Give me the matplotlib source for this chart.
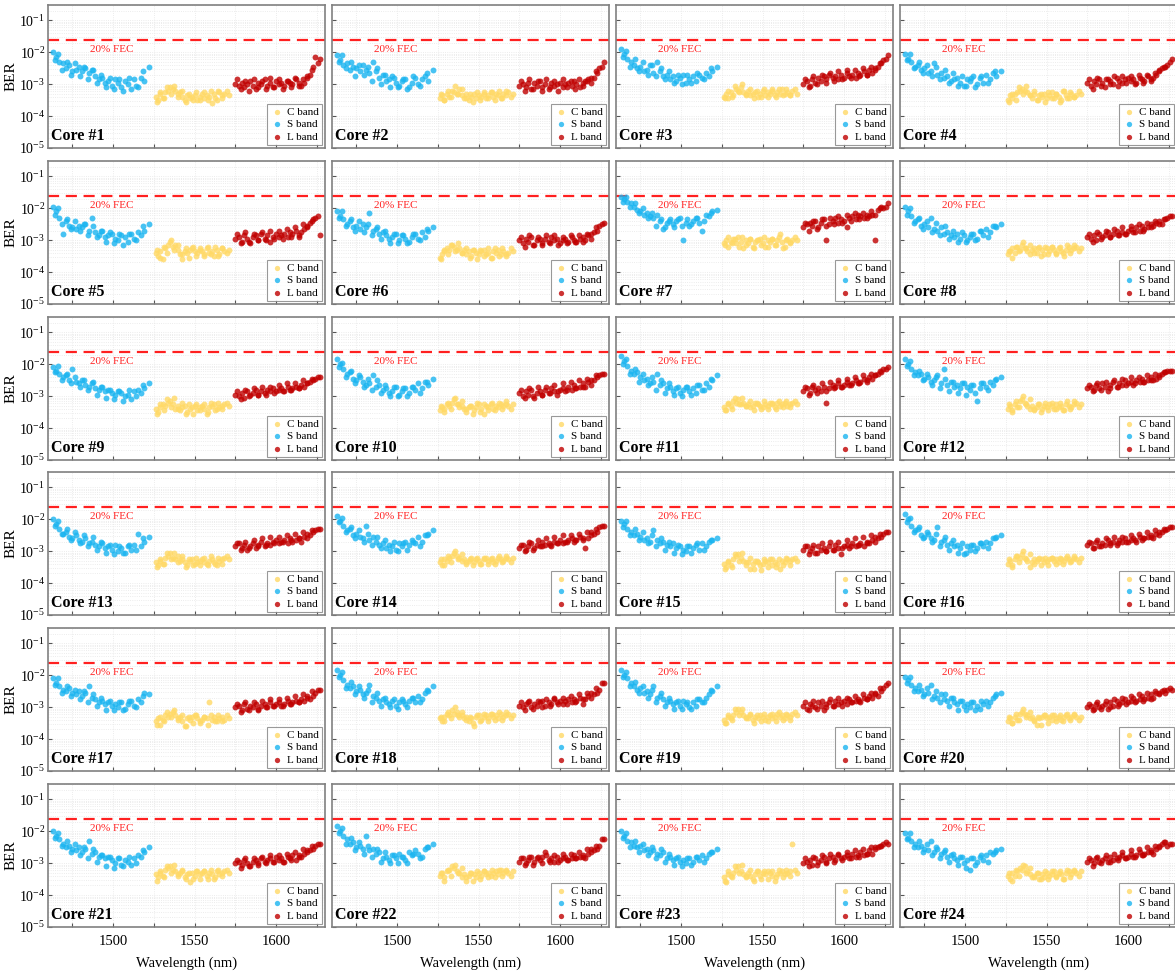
import matplotlib
matplotlib.use("Agg")
import matplotlib.pyplot as plt
import numpy as np
from matplotlib.ticker import LogLocator, NullFormatter, FixedLocator

plt.rcParams['font.family'] = ['Liberation Serif', 'DejaVu Serif']
plt.rcParams['mathtext.fontset'] = 'stix'

# wavelength grids (nm): two interleaved sweeps per band
s_wl = [1463, 1465, 1467, 1469, 1471, 1473, 1475, 1477, 1479, 1481, 1483, 1485, 1487, 1489, 1491,
        1493, 1495, 1497, 1499, 1501, 1503, 1505, 1507, 1509, 1511, 1513, 1515, 1517, 1519, 1522]
c_wl = [1526, 1527.5, 1529, 1530.5, 1532, 1533.5, 1535, 1536.5, 1538, 1539.5, 1541, 1542.5, 1544, 1545.5, 1547,
        1548.5, 1550, 1551.5, 1553, 1554.5, 1556, 1557.5, 1559, 1560.5, 1562, 1563.5, 1565, 1566.5, 1568, 1571]
l_wl = [1575, 1577, 1579, 1580.5, 1582, 1584, 1586, 1587.5, 1589, 1591, 1593, 1594.5, 1596, 1598, 1600,
        1601.5, 1603, 1605, 1607, 1608.5, 1610, 1612, 1614, 1615.5, 1617, 1619, 1621, 1622.5, 1624, 1627]
s_wl2 = [1464, 1466, 1468.5, 1471.5, 1474, 1476.5, 1479.5, 1482, 1484.5, 1487.5,
         1490, 1492.5, 1495.5, 1498, 1500.5, 1503.5, 1506, 1509.5, 1514, 1518]
c_wl2 = [1526.8, 1528.5, 1531, 1533, 1535.5, 1537.5, 1540, 1542, 1544.5, 1546.5,
         1549, 1551, 1553.5, 1555.5, 1558, 1560, 1562.5, 1564.5, 1567, 1570]
l_wl2 = [1576, 1578.5, 1581, 1583.5, 1586.5, 1589, 1591.5, 1594, 1596.5, 1599,
         1601.5, 1604, 1606.5, 1609, 1611.5, 1614, 1616.5, 1619, 1622, 1625.5]

s_log_ber = [
    [-2.00,-2.15,-2.30,-2.35,-2.50,-2.40,-2.60,-2.55,-2.45,-2.60,-2.50,-2.65,-2.55,-2.75,-2.85,-2.80,-2.95,-2.90,-3.05,-2.85,-2.95,-3.10,-2.90,-3.00,-3.15,-2.85,-3.10,-2.80,-2.90,-2.45],
    [-2.10,-2.25,-2.40,-2.35,-2.55,-2.45,-2.50,-2.60,-2.40,-2.55,-2.65,-2.30,-2.60,-2.80,-2.70,-2.90,-2.85,-2.75,-2.95,-3.05,-2.90,-2.85,-3.10,-2.95,-2.80,-3.00,-2.85,-2.75,-2.90,-2.55],
    [-1.90,-2.05,-2.20,-2.30,-2.40,-2.50,-2.45,-2.60,-2.55,-2.40,-2.65,-2.30,-2.60,-2.75,-2.70,-2.85,-2.75,-2.90,-2.80,-2.70,-2.95,-2.85,-2.75,-2.90,-2.70,-2.80,-2.65,-2.75,-2.60,-2.45],
    [-2.05,-2.20,-2.30,-2.45,-2.40,-2.55,-2.50,-2.65,-2.60,-2.35,-2.70,-2.65,-2.80,-2.75,-2.90,-2.85,-2.80,-2.95,-3.05,-2.85,-2.90,-2.75,-3.00,-2.80,-2.95,-2.70,-2.85,-2.65,-2.75,-2.60],
    [-1.95,-2.10,-2.30,-2.80,-2.40,-2.55,-2.60,-2.65,-2.55,-2.60,-2.50,-2.70,-2.30,-2.75,-2.85,-2.70,-2.90,-2.85,-2.80,-2.95,-3.00,-2.85,-2.90,-3.05,-2.80,-2.95,-2.75,-2.85,-2.70,-2.50],
    [-2.10,-2.25,-2.35,-2.50,-2.40,-2.60,-2.55,-2.65,-2.50,-2.60,-2.15,-2.70,-2.65,-2.80,-2.75,-2.85,-2.95,-2.90,-2.80,-3.00,-2.85,-2.95,-3.05,-2.90,-2.80,-2.95,-2.75,-2.90,-2.70,-2.60],
    [-1.65,-1.70,-1.80,-1.85,-1.95,-2.05,-2.10,-2.20,-2.15,-2.25,-2.30,-2.20,-2.40,-2.65,-2.45,-2.35,-2.50,-2.40,-2.30,-3.00,-2.45,-2.55,-2.40,-2.30,-2.45,-2.70,-2.20,-2.25,-2.10,-2.05],
    [-1.95,-2.10,-2.25,-2.40,-2.35,-2.55,-2.50,-2.60,-2.30,-2.65,-2.70,-2.60,-2.80,-2.75,-2.85,-2.90,-2.80,-2.95,-2.85,-3.00,-2.90,-2.80,-2.95,-2.70,-2.85,-2.65,-2.75,-2.55,-2.60,-2.50],
    [-2.10,-2.20,-2.30,-2.40,-2.35,-2.50,-2.15,-2.55,-2.60,-2.50,-2.65,-2.70,-2.60,-2.75,-2.80,-2.70,-2.85,-2.80,-2.90,-2.95,-2.85,-2.90,-3.00,-2.95,-3.10,-2.85,-2.80,-2.90,-2.75,-2.60],
    [-1.85,-2.00,-2.15,-2.30,-2.25,-2.45,-2.50,-2.40,-2.55,-2.65,-2.60,-2.35,-2.70,-2.65,-2.80,-2.75,-2.90,-2.85,-2.70,-2.95,-2.85,-2.75,-2.90,-2.70,-2.80,-2.60,-2.75,-2.55,-2.65,-2.45],
    [-1.75,-1.90,-2.05,-2.20,-2.30,-2.25,-2.40,-2.50,-2.45,-2.60,-2.55,-2.30,-2.65,-2.60,-2.75,-2.70,-2.85,-2.75,-2.90,-2.80,-2.70,-2.85,-2.75,-2.90,-2.65,-2.80,-2.60,-2.70,-2.50,-2.35],
    [-1.85,-2.00,-2.15,-2.25,-2.35,-2.30,-2.45,-2.40,-2.55,-2.50,-2.35,-2.60,-2.15,-2.65,-2.55,-2.70,-2.65,-2.75,-2.60,-2.70,-2.80,-2.65,-3.15,-2.75,-2.60,-2.70,-2.55,-2.65,-2.45,-2.40],
    [-2.00,-2.15,-2.30,-2.45,-2.40,-2.55,-2.60,-2.50,-2.65,-2.70,-2.60,-2.75,-2.70,-2.80,-2.85,-2.75,-2.90,-2.85,-2.95,-2.80,-3.00,-2.90,-3.05,-2.85,-2.95,-2.80,-2.45,-2.85,-2.70,-2.55],
    [-1.90,-2.05,-2.20,-2.35,-2.30,-2.50,-2.45,-2.55,-2.60,-2.20,-2.65,-2.55,-2.70,-2.80,-2.75,-2.90,-2.80,-2.85,-2.95,-2.75,-2.85,-2.70,-2.80,-2.65,-2.75,-2.55,-2.70,-2.50,-2.45,-2.35],
    [-2.05,-2.15,-2.30,-2.40,-2.50,-2.45,-2.55,-2.65,-2.60,-2.70,-2.35,-2.65,-2.75,-2.70,-2.80,-2.85,-2.75,-2.90,-2.85,-2.95,-3.00,-2.85,-2.90,-2.80,-2.95,-2.75,-2.85,-2.70,-2.65,-2.60],
    [-1.85,-2.00,-2.20,-2.35,-2.30,-2.50,-2.55,-2.45,-2.60,-2.65,-2.25,-2.70,-2.65,-2.80,-2.75,-2.85,-2.80,-2.90,-3.10,-2.85,-2.95,-2.80,-2.90,-2.75,-2.85,-2.70,-2.75,-2.60,-2.55,-2.50],
    [-2.10,-2.25,-2.35,-2.45,-2.50,-2.40,-2.55,-2.60,-2.50,-2.65,-2.55,-2.35,-2.70,-2.75,-2.85,-2.80,-2.90,-2.85,-2.95,-2.90,-3.00,-2.85,-3.05,-2.90,-2.80,-2.95,-2.75,-2.85,-2.55,-2.60],
    [-1.85,-2.00,-2.15,-2.30,-2.40,-2.35,-2.50,-2.45,-2.60,-2.55,-2.30,-2.65,-2.70,-2.80,-2.75,-2.85,-2.90,-2.80,-2.95,-2.85,-2.75,-2.90,-2.80,-2.70,-2.85,-2.65,-2.75,-2.55,-2.50,-2.35],
    [-1.85,-2.00,-2.10,-2.25,-2.35,-2.45,-2.40,-2.55,-2.50,-2.60,-2.35,-2.70,-2.65,-2.75,-2.85,-2.80,-2.90,-2.85,-2.95,-2.80,-2.90,-3.00,-2.85,-2.95,-2.75,-2.85,-2.70,-2.60,-2.50,-2.35],
    [-2.05,-2.15,-2.30,-2.40,-2.50,-2.45,-2.60,-2.55,-2.30,-2.65,-2.70,-2.60,-2.75,-2.80,-2.70,-2.85,-2.90,-2.80,-2.95,-2.90,-3.00,-2.85,-2.95,-3.05,-2.90,-2.80,-2.85,-2.70,-2.60,-2.55],
    [-2.00,-2.15,-2.25,-2.40,-2.50,-2.45,-2.55,-2.60,-2.50,-2.65,-2.55,-2.30,-2.70,-2.65,-2.80,-2.75,-2.85,-2.80,-2.90,-3.00,-2.85,-3.05,-2.90,-2.95,-3.05,-2.85,-2.75,-2.80,-2.65,-2.50],
    [-1.85,-2.00,-2.15,-2.25,-2.40,-2.35,-2.50,-2.45,-2.55,-2.15,-2.60,-2.55,-2.70,-2.65,-2.85,-2.80,-2.90,-2.75,-2.85,-2.70,-2.80,-2.90,-2.65,-2.75,-2.60,-2.70,-2.80,-2.55,-2.50,-2.40],
    [-2.00,-2.15,-2.30,-2.35,-2.45,-2.50,-2.45,-2.60,-2.55,-2.65,-2.60,-2.70,-2.75,-2.65,-2.85,-2.80,-2.90,-2.85,-2.95,-2.90,-3.00,-2.85,-2.95,-2.80,-2.90,-2.75,-2.85,-2.70,-2.65,-2.55],
    [-2.05,-2.20,-2.30,-2.40,-2.50,-2.45,-2.55,-2.60,-2.30,-2.65,-2.55,-2.70,-2.65,-2.80,-2.75,-2.85,-2.90,-2.80,-3.00,-2.90,-3.20,-2.85,-2.95,-2.80,-2.90,-2.75,-2.65,-2.70,-2.60,-2.55],
]
# S band, second sweep
s_log_ber2 = [
    [-2.25,-2.05,-2.55,-2.30,-2.70,-2.35,-2.75,-2.45,-2.85,-2.55,-2.95,-2.70,-3.10,-2.80,-3.15,-2.85,-3.20,-2.80,-3.05,-2.60],
    [-2.30,-2.10,-2.50,-2.30,-2.75,-2.40,-2.70,-2.45,-2.90,-2.50,-3.00,-2.70,-3.10,-2.80,-3.10,-2.85,-3.15,-2.75,-3.05,-2.65],
    [-2.15,-1.95,-2.45,-2.20,-2.60,-2.30,-2.70,-2.40,-2.75,-2.50,-2.85,-2.60,-2.95,-2.70,-3.00,-2.70,-2.95,-2.65,-2.85,-2.50],
    [-2.25,-2.05,-2.50,-2.30,-2.65,-2.40,-2.75,-2.45,-2.85,-2.55,-2.95,-2.65,-3.05,-2.75,-3.05,-2.80,-3.10,-2.75,-2.95,-2.60],
    [-2.20,-2.00,-2.50,-2.35,-2.65,-2.40,-2.70,-2.50,-2.85,-2.55,-2.90,-2.70,-3.05,-2.75,-3.10,-2.80,-3.15,-2.80,-3.00,-2.55],
    [-2.30,-2.10,-2.55,-2.35,-2.70,-2.40,-2.75,-2.50,-2.85,-2.60,-2.95,-2.70,-3.10,-2.80,-3.10,-2.85,-3.10,-2.80,-3.00,-2.65],
    [-1.80,-1.65,-1.95,-1.85,-2.15,-2.00,-2.30,-2.15,-2.55,-2.35,-2.60,-2.40,-2.60,-2.35,-2.55,-2.35,-2.50,-2.30,-2.40,-2.15],
    [-2.20,-2.00,-2.45,-2.30,-2.65,-2.40,-2.75,-2.45,-2.85,-2.55,-2.95,-2.70,-3.05,-2.75,-3.05,-2.80,-3.00,-2.70,-2.90,-2.55],
    [-2.25,-2.05,-2.50,-2.30,-2.60,-2.40,-2.70,-2.50,-2.80,-2.55,-2.95,-2.70,-3.05,-2.80,-3.10,-2.85,-3.15,-2.80,-3.00,-2.65],
    [-2.10,-1.95,-2.40,-2.20,-2.60,-2.35,-2.70,-2.45,-2.80,-2.50,-2.90,-2.65,-3.00,-2.70,-3.00,-2.75,-3.00,-2.70,-2.90,-2.55],
    [-2.00,-1.85,-2.30,-2.15,-2.55,-2.30,-2.65,-2.40,-2.80,-2.50,-2.90,-2.60,-2.95,-2.70,-3.00,-2.70,-2.95,-2.65,-2.80,-2.45],
    [-2.05,-1.90,-2.35,-2.20,-2.50,-2.30,-2.65,-2.40,-2.75,-2.45,-2.85,-2.55,-2.90,-2.60,-2.95,-2.65,-2.90,-2.60,-2.80,-2.50],
    [-2.20,-2.05,-2.45,-2.30,-2.65,-2.40,-2.75,-2.50,-2.85,-2.55,-2.95,-2.70,-3.05,-2.80,-3.10,-2.85,-3.05,-2.80,-2.95,-2.60],
    [-2.10,-1.95,-2.40,-2.25,-2.60,-2.35,-2.70,-2.45,-2.80,-2.55,-2.90,-2.65,-3.00,-2.70,-3.00,-2.75,-2.95,-2.70,-2.85,-2.50],
    [-2.25,-2.05,-2.50,-2.30,-2.65,-2.40,-2.75,-2.50,-2.85,-2.60,-2.95,-2.70,-3.05,-2.80,-3.10,-2.85,-3.05,-2.75,-2.95,-2.65],
    [-2.10,-1.95,-2.40,-2.25,-2.60,-2.40,-2.70,-2.45,-2.85,-2.55,-2.95,-2.65,-3.05,-2.75,-3.05,-2.80,-3.00,-2.75,-2.90,-2.60],
    [-2.30,-2.10,-2.55,-2.35,-2.65,-2.45,-2.75,-2.50,-2.85,-2.60,-2.95,-2.70,-3.10,-2.80,-3.10,-2.85,-3.10,-2.80,-3.00,-2.65],
    [-2.05,-1.90,-2.40,-2.20,-2.60,-2.35,-2.70,-2.45,-2.85,-2.55,-2.95,-2.70,-3.00,-2.75,-3.05,-2.80,-3.00,-2.70,-2.85,-2.45],
    [-2.05,-1.90,-2.35,-2.20,-2.55,-2.35,-2.70,-2.45,-2.85,-2.55,-2.95,-2.70,-3.05,-2.80,-3.05,-2.85,-3.05,-2.75,-2.85,-2.45],
    [-2.25,-2.05,-2.50,-2.30,-2.65,-2.40,-2.75,-2.50,-2.85,-2.60,-2.95,-2.70,-3.10,-2.80,-3.10,-2.85,-3.10,-2.80,-2.95,-2.65],
    [-2.20,-2.05,-2.45,-2.30,-2.65,-2.40,-2.75,-2.50,-2.85,-2.55,-2.95,-2.75,-3.10,-2.80,-3.15,-2.85,-3.10,-2.80,-3.00,-2.60],
    [-2.05,-1.90,-2.40,-2.20,-2.60,-2.35,-2.70,-2.45,-2.80,-2.55,-2.95,-2.65,-3.00,-2.75,-3.00,-2.80,-3.00,-2.70,-2.85,-2.50],
    [-2.20,-2.05,-2.50,-2.30,-2.65,-2.40,-2.75,-2.50,-2.85,-2.55,-2.95,-2.70,-3.05,-2.80,-3.10,-2.85,-3.05,-2.80,-2.95,-2.65],
    [-2.25,-2.05,-2.50,-2.30,-2.65,-2.40,-2.75,-2.50,-2.85,-2.60,-2.95,-2.70,-3.05,-2.80,-3.15,-2.85,-3.05,-2.75,-2.95,-2.65],
]

# C band, first sweep
c_log_ber = [
    [-3.40,-3.50,-3.30,-3.45,-3.25,-3.20,-3.10,-3.15,-3.20,-3.30,-3.25,-3.40,-3.50,-3.35,-3.45,-3.40,-3.35,-3.50,-3.40,-3.30,-3.45,-3.35,-3.40,-3.60,-3.30,-3.50,-3.25,-3.35,-3.30,-3.35],
    [-3.45,-3.35,-3.50,-3.30,-3.40,-3.20,-3.25,-3.30,-3.15,-3.35,-3.45,-3.30,-3.50,-3.40,-3.30,-3.45,-3.35,-3.40,-3.30,-3.45,-3.35,-3.25,-3.40,-3.30,-3.35,-3.45,-3.30,-3.35,-3.25,-3.30],
    [-3.40,-3.30,-3.45,-3.25,-3.35,-3.15,-3.20,-3.10,-3.25,-3.30,-3.20,-3.35,-3.30,-3.25,-3.40,-3.30,-3.20,-3.35,-3.25,-3.30,-3.20,-3.35,-3.25,-3.30,-3.15,-3.30,-3.25,-3.35,-3.20,-3.30],
    [-3.50,-3.35,-3.45,-3.30,-3.25,-3.20,-3.15,-3.20,-3.25,-3.35,-3.45,-3.30,-3.50,-3.35,-3.40,-3.30,-3.45,-3.35,-3.25,-3.45,-3.30,-3.40,-3.50,-3.20,-3.35,-3.45,-3.30,-3.40,-3.35,-3.30],
    [-3.40,-3.50,-3.35,-3.60,-3.25,-3.15,-3.05,-3.20,-3.15,-3.30,-3.45,-3.60,-3.35,-3.40,-3.30,-3.25,-3.35,-3.40,-3.30,-3.35,-3.45,-3.25,-3.40,-3.35,-3.50,-3.30,-3.45,-3.25,-3.35,-3.30],
    [-3.55,-3.45,-3.35,-3.25,-3.30,-3.15,-3.20,-3.30,-3.25,-3.40,-3.30,-3.45,-3.35,-3.50,-3.30,-3.40,-3.45,-3.35,-3.30,-3.45,-3.40,-3.55,-3.35,-3.40,-3.30,-3.45,-3.35,-3.50,-3.40,-3.35],
    [-3.10,-3.00,-3.20,-3.05,-2.95,-3.10,-2.90,-3.05,-3.25,-3.00,-3.10,-2.95,-3.20,-3.05,-3.00,-2.95,-3.10,-3.20,-3.00,-3.05,-2.95,-3.15,-3.00,-2.80,-3.05,-3.20,-2.95,-3.05,-3.00,-3.00],
    [-3.45,-3.35,-3.25,-3.40,-3.20,-3.30,-3.15,-3.25,-3.35,-3.45,-3.30,-3.25,-3.40,-3.20,-3.30,-3.45,-3.25,-3.35,-3.20,-3.30,-3.40,-3.25,-3.35,-3.50,-3.30,-3.20,-3.30,-3.25,-3.20,-3.25],
    [-3.40,-3.50,-3.35,-3.25,-3.30,-3.20,-3.15,-3.25,-3.40,-3.30,-3.45,-3.35,-3.30,-3.50,-3.40,-3.35,-3.30,-3.45,-3.35,-3.30,-3.40,-3.55,-3.35,-3.30,-3.25,-3.40,-3.35,-3.30,-3.25,-3.30],
    [-3.45,-3.35,-3.40,-3.25,-3.30,-3.20,-3.10,-3.25,-3.35,-3.30,-3.40,-3.50,-3.35,-3.30,-3.45,-3.35,-3.25,-3.40,-3.55,-3.30,-3.35,-3.25,-3.40,-3.30,-3.35,-3.25,-3.30,-3.25,-3.30,-3.25],
    [-3.35,-3.45,-3.25,-3.30,-3.15,-3.20,-3.10,-3.25,-3.20,-3.30,-3.25,-3.35,-3.30,-3.20,-3.25,-3.30,-3.35,-3.25,-3.30,-3.20,-3.25,-3.35,-3.20,-3.30,-3.25,-3.20,-3.30,-3.25,-3.20,-3.25],
    [-3.40,-3.30,-3.45,-3.25,-3.35,-3.15,-3.10,-3.20,-3.30,-3.40,-3.30,-3.45,-3.35,-3.25,-3.40,-3.30,-3.35,-3.25,-3.30,-3.40,-3.25,-3.35,-3.30,-3.45,-3.25,-3.30,-3.35,-3.25,-3.20,-3.25],
    [-3.35,-3.45,-3.30,-3.40,-3.20,-3.15,-3.05,-3.20,-3.25,-3.15,-3.30,-3.25,-3.35,-3.45,-3.30,-3.25,-3.40,-3.35,-3.30,-3.25,-3.35,-3.40,-3.30,-3.25,-3.35,-3.45,-3.30,-3.25,-3.20,-3.25],
    [-3.35,-3.45,-3.25,-3.30,-3.20,-3.15,-3.05,-3.15,-3.20,-3.30,-3.25,-3.40,-3.30,-3.20,-3.35,-3.25,-3.30,-3.40,-3.25,-3.20,-3.30,-3.25,-3.35,-3.30,-3.20,-3.25,-3.30,-3.20,-3.25,-3.20],
    [-3.40,-3.50,-3.35,-3.45,-3.25,-3.15,-3.10,-3.20,-3.30,-3.45,-3.35,-3.55,-3.40,-3.30,-3.35,-3.45,-3.40,-3.30,-3.35,-3.25,-3.45,-3.35,-3.40,-3.55,-3.30,-3.35,-3.25,-3.30,-3.25,-3.30],
    [-3.40,-3.30,-3.45,-3.25,-3.15,-3.20,-3.10,-3.20,-3.30,-3.50,-3.35,-3.25,-3.30,-3.20,-3.25,-3.35,-3.30,-3.25,-3.20,-3.30,-3.25,-3.35,-3.25,-3.30,-3.20,-3.25,-3.30,-3.20,-3.25,-3.20],
    [-3.45,-3.35,-3.55,-3.40,-3.25,-3.30,-3.20,-3.15,-3.25,-3.35,-3.30,-3.45,-3.60,-3.35,-3.40,-3.30,-3.25,-3.35,-3.45,-3.40,-3.30,-3.35,-2.85,-3.40,-3.30,-3.45,-3.35,-3.30,-3.40,-3.35],
    [-3.35,-3.45,-3.30,-3.20,-3.25,-3.10,-3.20,-3.15,-3.30,-3.25,-3.35,-3.30,-3.45,-3.35,-3.60,-3.30,-3.25,-3.40,-3.30,-3.25,-3.35,-3.20,-3.30,-3.25,-3.35,-3.20,-3.30,-3.25,-3.20,-3.25],
    [-3.40,-3.50,-3.30,-3.35,-3.25,-3.15,-3.05,-3.15,-3.25,-3.30,-3.35,-3.25,-3.40,-3.30,-3.35,-3.25,-3.30,-3.40,-3.30,-3.25,-3.35,-3.30,-3.20,-3.30,-3.25,-3.35,-3.25,-3.30,-3.20,-3.25],
    [-3.45,-3.35,-3.50,-3.30,-3.40,-3.20,-3.15,-3.20,-3.25,-3.35,-3.30,-3.45,-3.55,-3.35,-3.30,-3.25,-3.35,-3.30,-3.40,-3.25,-3.35,-3.30,-3.40,-3.30,-3.25,-3.35,-3.30,-3.25,-3.30,-3.30],
    [-3.35,-3.45,-3.30,-3.40,-3.20,-3.15,-3.10,-3.20,-3.25,-3.35,-3.30,-3.25,-3.45,-3.35,-3.60,-3.30,-3.40,-3.25,-3.35,-3.30,-3.25,-3.40,-3.30,-3.35,-3.50,-3.25,-3.35,-3.30,-3.25,-3.30],
    [-3.40,-3.30,-3.45,-3.25,-3.20,-3.10,-3.15,-3.25,-3.30,-3.45,-3.35,-3.55,-3.40,-3.30,-3.35,-3.45,-3.30,-3.40,-3.25,-3.35,-3.30,-3.40,-3.30,-3.25,-3.35,-3.20,-3.30,-3.25,-3.30,-3.25],
    [-3.45,-3.60,-3.35,-3.40,-3.30,-3.20,-3.10,-3.25,-3.35,-3.45,-3.30,-3.40,-3.50,-3.35,-3.25,-3.40,-3.30,-3.35,-3.25,-3.30,-3.40,-3.55,-3.35,-3.30,-3.25,-3.35,-3.30,-3.25,-2.40,-3.30],
    [-3.40,-3.50,-3.30,-3.40,-3.25,-3.15,-3.20,-3.10,-3.25,-3.35,-3.45,-3.40,-3.30,-3.50,-3.35,-3.45,-3.30,-3.40,-3.35,-3.25,-3.40,-3.30,-3.35,-3.50,-3.30,-3.25,-3.35,-3.25,-3.30,-3.25],
]
# C band, second sweep
c_log_ber2 = [
    [-3.55,-3.25,-3.45,-3.10,-3.30,-3.05,-3.40,-3.20,-3.55,-3.30,-3.50,-3.25,-3.50,-3.25,-3.50,-3.20,-3.45,-3.20,-3.45,-3.20],
    [-3.30,-3.50,-3.20,-3.40,-3.05,-3.30,-3.15,-3.45,-3.30,-3.55,-3.25,-3.50,-3.25,-3.45,-3.25,-3.50,-3.20,-3.45,-3.20,-3.40],
    [-3.45,-3.20,-3.40,-3.05,-3.25,-3.00,-3.35,-3.15,-3.45,-3.20,-3.40,-3.15,-3.40,-3.15,-3.40,-3.15,-3.35,-3.15,-3.35,-3.15],
    [-3.55,-3.30,-3.50,-3.10,-3.30,-3.05,-3.35,-3.20,-3.50,-3.30,-3.55,-3.25,-3.45,-3.30,-3.55,-3.20,-3.45,-3.25,-3.40,-3.20],
    [-3.30,-3.55,-3.20,-3.40,-3.00,-3.30,-3.15,-3.45,-3.25,-3.55,-3.20,-3.50,-3.25,-3.50,-3.20,-3.45,-3.20,-3.50,-3.25,-3.40],
    [-3.60,-3.30,-3.45,-3.15,-3.35,-3.10,-3.40,-3.25,-3.55,-3.30,-3.60,-3.30,-3.50,-3.25,-3.55,-3.25,-3.50,-3.25,-3.45,-3.25],
    [-3.15,-2.90,-3.10,-2.95,-3.20,-2.90,-3.15,-2.95,-3.25,-3.00,-3.15,-2.90,-3.20,-2.95,-3.15,-2.90,-3.25,-3.00,-3.10,-2.90],
    [-3.35,-3.55,-3.20,-3.35,-3.05,-3.25,-3.15,-3.40,-3.25,-3.50,-3.20,-3.45,-3.20,-3.45,-3.20,-3.40,-3.15,-3.40,-3.15,-3.35],
    [-3.55,-3.25,-3.45,-3.10,-3.35,-3.05,-3.40,-3.20,-3.55,-3.25,-3.55,-3.25,-3.45,-3.25,-3.50,-3.20,-3.45,-3.20,-3.40,-3.20],
    [-3.30,-3.50,-3.20,-3.40,-3.05,-3.25,-3.15,-3.40,-3.30,-3.55,-3.20,-3.50,-3.25,-3.45,-3.20,-3.45,-3.20,-3.40,-3.15,-3.40],
    [-3.45,-3.20,-3.40,-3.05,-3.25,-3.05,-3.30,-3.15,-3.45,-3.20,-3.40,-3.15,-3.40,-3.20,-3.40,-3.15,-3.35,-3.15,-3.35,-3.15],
    [-3.25,-3.50,-3.15,-3.35,-3.00,-3.25,-3.10,-3.40,-3.25,-3.50,-3.20,-3.45,-3.20,-3.40,-3.20,-3.45,-3.15,-3.40,-3.15,-3.35],
    [-3.50,-3.25,-3.40,-3.05,-3.25,-3.05,-3.35,-3.15,-3.50,-3.25,-3.45,-3.20,-3.45,-3.20,-3.45,-3.15,-3.40,-3.20,-3.40,-3.15],
    [-3.25,-3.45,-3.15,-3.35,-3.00,-3.25,-3.10,-3.35,-3.25,-3.45,-3.20,-3.40,-3.20,-3.40,-3.20,-3.40,-3.15,-3.35,-3.15,-3.35],
    [-3.55,-3.30,-3.50,-3.10,-3.30,-3.05,-3.35,-3.20,-3.55,-3.30,-3.60,-3.25,-3.50,-3.25,-3.50,-3.25,-3.45,-3.20,-3.45,-3.20],
    [-3.25,-3.50,-3.15,-3.35,-3.00,-3.25,-3.10,-3.40,-3.25,-3.45,-3.20,-3.45,-3.20,-3.40,-3.20,-3.40,-3.15,-3.35,-3.15,-3.35],
    [-3.55,-3.30,-3.45,-3.15,-3.30,-3.10,-3.40,-3.25,-3.60,-3.30,-3.50,-3.25,-3.50,-3.30,-3.55,-3.25,-3.45,-3.25,-3.45,-3.25],
    [-3.30,-3.45,-3.15,-3.35,-3.00,-3.25,-3.15,-3.40,-3.30,-3.50,-3.25,-3.45,-3.20,-3.45,-3.20,-3.40,-3.15,-3.40,-3.15,-3.35],
    [-3.50,-3.25,-3.40,-3.05,-3.25,-3.05,-3.35,-3.20,-3.50,-3.25,-3.45,-3.20,-3.45,-3.20,-3.45,-3.15,-3.40,-3.20,-3.40,-3.15],
    [-3.30,-3.50,-3.20,-3.40,-3.05,-3.30,-3.15,-3.40,-3.30,-3.55,-3.25,-3.50,-3.25,-3.45,-3.25,-3.45,-3.20,-3.40,-3.20,-3.40],
    [-3.55,-3.25,-3.45,-3.10,-3.30,-3.05,-3.40,-3.20,-3.50,-3.30,-3.50,-3.25,-3.50,-3.25,-3.50,-3.20,-3.45,-3.20,-3.40,-3.20],
    [-3.30,-3.55,-3.20,-3.40,-3.05,-3.30,-3.15,-3.45,-3.30,-3.55,-3.25,-3.50,-3.25,-3.45,-3.20,-3.45,-3.20,-3.40,-3.20,-3.40],
    [-3.55,-3.25,-3.45,-3.10,-3.30,-3.05,-3.40,-3.20,-3.55,-3.25,-3.50,-3.25,-3.50,-3.25,-3.45,-3.20,-3.45,-3.20,-3.40,-3.20],
    [-3.30,-3.55,-3.20,-3.40,-3.05,-3.30,-3.15,-3.45,-3.30,-3.50,-3.25,-3.50,-3.25,-3.45,-3.25,-3.50,-3.20,-3.45,-3.20,-3.40],
]

# L band, first sweep
l_log_ber = [
    [-3.00,-3.05,-2.95,-3.10,-3.00,-2.90,-3.05,-3.15,-2.95,-3.00,-2.85,-3.05,-2.95,-3.10,-2.90,-3.00,-2.95,-3.05,-2.90,-2.95,-3.00,-2.85,-2.95,-3.05,-2.95,-2.80,-2.70,-2.45,-2.15,-2.20],
    [-3.05,-3.00,-3.10,-2.95,-3.15,-2.95,-3.05,-2.90,-3.10,-3.00,-3.15,-2.95,-3.05,-3.00,-2.95,-3.10,-3.00,-2.95,-3.05,-2.90,-3.00,-3.10,-2.95,-2.90,-2.85,-2.95,-2.80,-2.65,-2.50,-2.30],
    [-3.00,-2.90,-3.05,-2.85,-2.95,-2.80,-2.90,-2.75,-2.85,-2.70,-2.80,-2.75,-2.85,-2.70,-2.80,-2.65,-2.75,-2.70,-2.80,-2.65,-2.70,-2.60,-2.70,-2.55,-2.65,-2.50,-2.45,-2.35,-2.25,-2.10],
    [-2.95,-3.05,-2.90,-3.00,-2.85,-2.95,-3.10,-2.85,-2.90,-3.00,-2.80,-2.90,-2.95,-2.85,-2.80,-2.90,-2.85,-2.95,-2.80,-2.85,-2.90,-2.75,-2.85,-2.80,-2.70,-2.60,-2.50,-2.45,-2.40,-2.20],
    [-2.95,-2.90,-3.05,-2.85,-2.95,-3.10,-2.90,-2.85,-3.00,-2.80,-2.95,-2.85,-3.05,-2.90,-2.80,-2.90,-2.85,-2.80,-2.90,-2.75,-2.80,-2.70,-2.90,-2.75,-2.65,-2.60,-2.45,-2.35,-2.30,-2.85],
    [-3.00,-3.10,-2.95,-3.05,-2.90,-3.15,-3.00,-2.95,-3.10,-2.95,-3.05,-2.90,-3.00,-2.95,-3.10,-3.00,-2.95,-3.05,-2.90,-3.00,-3.05,-2.95,-2.90,-3.00,-2.85,-2.95,-2.75,-2.70,-2.55,-2.45],
    [-2.60,-2.50,-2.45,-2.55,-2.40,-2.60,-2.45,-2.35,-3.00,-2.50,-2.40,-2.30,-2.45,-2.35,-2.40,-2.60,-2.30,-2.25,-2.35,-2.20,-2.25,-2.30,-2.20,-2.25,-2.20,-3.00,-2.05,-1.95,-2.00,-1.85],
    [-2.90,-2.95,-2.85,-3.00,-2.80,-2.90,-2.85,-2.75,-2.90,-2.80,-2.70,-2.85,-2.75,-2.80,-2.70,-2.65,-2.75,-2.60,-2.70,-2.55,-2.65,-2.60,-2.50,-2.55,-2.45,-2.40,-2.50,-2.35,-2.30,-2.25],
    [-2.95,-3.00,-2.90,-3.05,-2.85,-2.95,-2.90,-2.80,-2.95,-2.85,-2.90,-2.80,-2.85,-2.75,-2.85,-2.80,-2.75,-2.85,-2.70,-2.80,-2.75,-2.70,-2.75,-2.65,-2.70,-2.60,-2.55,-2.50,-2.45,-2.40],
    [-2.90,-3.00,-2.85,-2.95,-2.80,-3.05,-2.90,-2.85,-2.95,-2.80,-2.90,-2.75,-2.85,-2.95,-2.80,-2.75,-2.85,-2.70,-2.80,-2.65,-2.75,-2.70,-2.60,-2.70,-2.55,-2.65,-2.50,-2.40,-2.35,-2.30],
    [-2.85,-2.75,-2.90,-2.70,-2.80,-2.75,-2.85,-2.70,-3.20,-2.75,-2.65,-2.70,-2.60,-2.70,-2.65,-2.55,-2.65,-2.60,-2.50,-2.60,-2.55,-2.45,-2.55,-2.40,-2.45,-2.35,-2.30,-2.25,-2.15,-2.10],
    [-2.75,-2.70,-2.80,-2.65,-2.75,-2.60,-2.70,-2.85,-2.65,-2.55,-2.70,-2.60,-2.65,-2.50,-2.60,-2.55,-2.65,-2.50,-2.55,-2.45,-2.55,-2.50,-2.40,-2.50,-2.45,-2.40,-2.30,-2.25,-2.20,-2.20],
    [-2.85,-2.75,-2.90,-2.80,-2.95,-2.85,-2.75,-2.90,-2.80,-2.70,-2.85,-2.75,-2.80,-2.70,-2.65,-2.75,-2.70,-2.65,-2.75,-2.60,-2.70,-2.65,-2.60,-2.70,-2.55,-2.60,-2.50,-2.40,-2.35,-2.30],
    [-2.90,-2.80,-2.95,-2.85,-2.75,-2.90,-2.80,-2.85,-2.70,-2.80,-2.75,-2.85,-2.70,-2.75,-2.65,-2.75,-2.70,-2.65,-2.60,-2.70,-2.65,-2.55,-2.65,-2.90,-2.60,-2.50,-2.45,-2.40,-2.25,-2.20],
    [-2.95,-2.85,-3.00,-2.90,-3.05,-2.85,-2.95,-2.90,-3.00,-2.85,-2.95,-2.80,-2.90,-3.10,-2.85,-2.80,-2.90,-2.75,-2.85,-2.80,-2.75,-2.85,-2.70,-2.75,-2.65,-2.70,-2.60,-2.55,-2.45,-2.40],
    [-2.80,-2.75,-2.90,-2.70,-2.85,-2.75,-2.80,-2.65,-2.75,-2.70,-2.80,-2.65,-2.70,-2.60,-2.70,-2.65,-2.60,-2.70,-2.55,-2.65,-2.60,-2.55,-2.50,-2.60,-2.45,-2.50,-2.40,-2.35,-2.30,-2.25],
    [-3.00,-2.95,-3.10,-2.90,-3.05,-2.95,-3.00,-2.90,-3.10,-2.95,-2.90,-3.00,-2.85,-2.95,-2.90,-2.85,-2.95,-2.90,-2.80,-2.90,-2.85,-2.80,-2.85,-2.75,-2.80,-2.70,-2.75,-2.65,-2.55,-2.45],
    [-2.95,-3.00,-2.90,-2.85,-3.00,-2.90,-2.95,-2.85,-2.80,-2.95,-2.85,-2.90,-2.75,-2.85,-2.80,-2.90,-2.80,-2.75,-2.85,-2.75,-2.80,-2.70,-2.90,-2.75,-2.65,-2.70,-2.60,-2.55,-2.45,-2.25],
    [-2.95,-3.05,-2.90,-2.95,-3.00,-2.85,-2.95,-3.10,-2.90,-2.85,-2.95,-2.80,-2.90,-2.85,-2.80,-2.90,-2.75,-2.85,-2.80,-2.75,-2.85,-2.70,-2.75,-2.65,-2.70,-2.60,-2.65,-2.50,-2.40,-2.25],
    [-3.00,-2.95,-3.05,-2.90,-3.00,-2.95,-2.90,-3.05,-2.85,-2.95,-2.80,-2.90,-2.85,-2.75,-2.85,-2.80,-2.70,-2.80,-2.75,-2.65,-2.75,-2.70,-2.60,-2.70,-2.55,-2.60,-2.50,-2.55,-2.45,-2.45],
    [-3.00,-2.95,-3.05,-2.90,-3.00,-3.10,-2.95,-2.90,-3.00,-2.85,-2.95,-2.90,-2.85,-2.95,-2.80,-2.90,-2.85,-2.95,-2.80,-2.85,-2.75,-2.90,-2.75,-2.80,-2.70,-2.65,-2.60,-2.55,-2.45,-2.40],
    [-2.95,-2.85,-3.00,-2.90,-2.80,-2.95,-2.85,-2.90,-2.80,-2.65,-2.90,-2.85,-2.95,-2.80,-2.90,-2.85,-2.80,-2.90,-2.85,-2.75,-2.85,-2.80,-2.75,-2.85,-2.70,-2.65,-2.60,-2.55,-2.45,-2.25],
    [-3.00,-2.95,-2.90,-3.05,-2.85,-2.95,-2.90,-2.80,-2.95,-2.85,-2.80,-2.90,-2.75,-2.85,-2.80,-2.75,-2.85,-2.70,-2.80,-2.75,-2.65,-2.75,-2.70,-2.60,-2.70,-2.55,-2.50,-2.45,-2.40,-2.40],
    [-2.95,-2.90,-3.00,-2.85,-2.95,-2.90,-2.85,-2.95,-2.80,-2.90,-2.85,-2.80,-2.75,-2.85,-2.80,-2.70,-2.80,-2.75,-2.65,-2.75,-2.70,-2.65,-2.60,-2.70,-2.55,-2.50,-2.40,-2.35,-2.45,-2.40],
]
# L band, second sweep
l_log_ber2 = [
    [-2.85,-3.15,-2.90,-3.20,-2.85,-3.10,-2.90,-3.15,-2.80,-3.10,-2.85,-3.15,-2.90,-3.10,-2.80,-3.05,-2.85,-2.75,-2.55,-2.35],
    [-2.90,-3.20,-2.85,-3.15,-2.90,-3.20,-2.85,-3.10,-2.90,-3.20,-2.85,-3.10,-2.90,-3.15,-2.85,-3.05,-2.90,-2.80,-2.60,-2.45],
    [-2.85,-3.10,-2.75,-3.00,-2.70,-2.95,-2.65,-2.90,-2.60,-2.85,-2.55,-2.80,-2.55,-2.75,-2.50,-2.70,-2.45,-2.55,-2.35,-2.20],
    [-2.85,-3.15,-2.80,-3.05,-2.85,-3.00,-2.75,-3.05,-2.75,-2.95,-2.75,-3.00,-2.70,-2.95,-2.70,-2.90,-2.65,-2.55,-2.45,-2.30],
    [-2.80,-3.10,-2.75,-3.05,-2.80,-3.00,-2.75,-3.00,-2.70,-2.95,-2.70,-2.95,-2.65,-2.90,-2.60,-2.85,-2.50,-2.55,-2.40,-2.25],
    [-2.90,-3.20,-2.85,-3.15,-2.90,-3.15,-2.85,-3.10,-2.85,-3.15,-2.90,-3.10,-2.85,-3.05,-2.85,-3.05,-2.80,-2.80,-2.60,-2.50],
    [-2.45,-2.70,-2.40,-2.65,-2.35,-2.55,-2.30,-2.50,-2.25,-2.45,-2.20,-2.40,-2.15,-2.35,-2.15,-2.30,-2.10,-2.20,-2.00,-1.95],
    [-2.80,-3.05,-2.75,-2.95,-2.70,-2.90,-2.65,-2.85,-2.60,-2.80,-2.55,-2.75,-2.50,-2.70,-2.45,-2.60,-2.40,-2.50,-2.35,-2.25],
    [-2.85,-3.10,-2.80,-3.00,-2.75,-2.95,-2.70,-2.95,-2.70,-2.90,-2.65,-2.85,-2.60,-2.80,-2.60,-2.75,-2.50,-2.60,-2.45,-2.40],
    [-2.80,-3.05,-2.75,-3.00,-2.70,-2.95,-2.70,-2.90,-2.65,-2.85,-2.60,-2.80,-2.55,-2.75,-2.50,-2.70,-2.45,-2.50,-2.35,-2.30],
    [-2.70,-2.95,-2.65,-2.90,-2.60,-2.85,-2.55,-2.75,-2.50,-2.70,-2.45,-2.65,-2.40,-2.60,-2.35,-2.50,-2.30,-2.35,-2.20,-2.15],
    [-2.65,-2.85,-2.60,-2.80,-2.55,-2.75,-2.50,-2.70,-2.45,-2.65,-2.40,-2.60,-2.40,-2.55,-2.35,-2.50,-2.30,-2.35,-2.25,-2.20],
    [-2.75,-2.95,-2.70,-2.90,-2.65,-2.85,-2.60,-2.80,-2.55,-2.75,-2.55,-2.70,-2.50,-2.65,-2.45,-2.60,-2.40,-2.45,-2.35,-2.30],
    [-2.80,-3.00,-2.70,-2.95,-2.65,-2.85,-2.60,-2.80,-2.55,-2.75,-2.50,-2.70,-2.50,-2.65,-2.45,-2.60,-2.40,-2.40,-2.30,-2.20],
    [-2.85,-3.10,-2.80,-3.05,-2.75,-3.00,-2.70,-2.95,-2.70,-2.90,-2.65,-2.85,-2.60,-2.80,-2.55,-2.75,-2.50,-2.55,-2.45,-2.40],
    [-2.70,-2.90,-2.65,-2.85,-2.60,-2.80,-2.55,-2.75,-2.55,-2.70,-2.50,-2.65,-2.45,-2.60,-2.40,-2.55,-2.35,-2.40,-2.30,-2.25],
    [-2.90,-3.15,-2.85,-3.10,-2.85,-3.05,-2.80,-3.00,-2.75,-2.95,-2.75,-2.95,-2.70,-2.90,-2.65,-2.85,-2.60,-2.65,-2.50,-2.45],
    [-2.85,-3.10,-2.80,-3.05,-2.80,-3.00,-2.75,-2.95,-2.70,-2.90,-2.70,-2.90,-2.65,-2.85,-2.60,-2.75,-2.55,-2.55,-2.40,-2.25],
    [-2.85,-3.10,-2.80,-3.05,-2.80,-3.00,-2.75,-2.95,-2.70,-2.95,-2.70,-2.85,-2.65,-2.80,-2.60,-2.75,-2.55,-2.55,-2.40,-2.30],
    [-2.90,-3.10,-2.85,-3.05,-2.80,-3.00,-2.75,-2.95,-2.70,-2.90,-2.65,-2.85,-2.60,-2.80,-2.55,-2.75,-2.50,-2.55,-2.45,-2.40],
    [-2.90,-3.15,-2.85,-3.10,-2.85,-3.05,-2.80,-3.00,-2.75,-2.95,-2.75,-2.95,-2.70,-2.90,-2.65,-2.80,-2.55,-2.60,-2.45,-2.40],
    [-2.85,-3.05,-2.80,-3.05,-2.80,-3.00,-2.75,-2.95,-2.75,-2.95,-2.70,-2.90,-2.70,-2.85,-2.65,-2.80,-2.55,-2.55,-2.45,-2.25],
    [-2.85,-3.10,-2.80,-3.05,-2.75,-3.00,-2.70,-2.95,-2.70,-2.90,-2.65,-2.85,-2.60,-2.80,-2.55,-2.70,-2.50,-2.50,-2.45,-2.35],
    [-2.85,-3.10,-2.80,-3.00,-2.75,-2.95,-2.70,-2.90,-2.65,-2.85,-2.60,-2.80,-2.55,-2.75,-2.50,-2.65,-2.45,-2.45,-2.35,-2.40],
]

fec_limit = 2.4e-2
band_names = ['C band', 'S band', 'L band']
band_colors = ['#FFD966', '#1AB4F0', '#C00000']

W, H = 1175, 973
fig = plt.figure(figsize=(W / 100, H / 100), dpi=100)

col_left = [48, 332, 616, 900]
row_top = [5, 161, 317, 472, 628, 784]
ax_w, ax_h = 277, 143

for core in range(24):
    r, c = divmod(core, 4)
    ax = fig.add_axes([col_left[c] / W, 1 - (row_top[r] + ax_h) / H, ax_w / W, ax_h / H])

    band_wl = [c_wl + c_wl2, s_wl + s_wl2, l_wl + l_wl2]
    band_val = [c_log_ber[core] + c_log_ber2[core],
                s_log_ber[core] + s_log_ber2[core],
                l_log_ber[core] + l_log_ber2[core]]
    for wl, val, name, col in zip(band_wl, band_val, band_names, band_colors):
        ax.scatter(wl, np.power(10.0, val), s=18, color=col, alpha=0.8,
                   linewidths=0, label=name, zorder=3)

    ax.axhline(fec_limit, color='#FF2020', lw=1.6, ls=(0, (5, 3)), zorder=2)
    ax.text(1486, 1.25e-2, '20% FEC', color='#FF2020', fontsize=8, va='center', ha='left')

    ax.set_yscale('log')
    ax.set_ylim(1e-5, 0.3)
    ax.set_xlim(1460, 1630)
    ax.yaxis.set_major_locator(LogLocator(base=10, numticks=10))
    ax.yaxis.set_minor_locator(LogLocator(base=10, subs=np.arange(2, 10), numticks=10))
    ax.yaxis.set_minor_formatter(NullFormatter())
    ax.xaxis.set_major_locator(FixedLocator([1500, 1550, 1600]))
    ax.xaxis.set_minor_locator(FixedLocator([1475, 1525, 1575, 1625]))

    ax.grid(True, which='both', color='#e6e6e6', lw=0.6, ls=':', zorder=0)
    ax.tick_params(which='major', direction='in', length=3, width=0.8, labelsize=10,
                   pad=2, color='#555555')
    ax.tick_params(which='minor', direction='in', length=3, width=0.8, color='#555555')
    ax.tick_params(axis='y', which='minor', length=0)
    for sp in ax.spines.values():
        sp.set_color('#808080')
        sp.set_linewidth(1.2)

    if c == 0:
        ax.set_ylabel('BER', fontsize=11, labelpad=1)
    else:
        ax.set_yticklabels([])
    if r == 5:
        ax.set_xlabel('Wavelength (nm)', fontsize=10.5, labelpad=6)
        ax.tick_params(axis='x', labelsize=10.5, pad=6)
    else:
        ax.set_xticklabels([])

    ax.text(0.01, 0.03, f'Core #{core + 1}', transform=ax.transAxes, fontsize=11.5,
            fontweight='bold', ha='left', va='bottom')
    leg = ax.legend(loc='lower right', fontsize=8, frameon=True, fancybox=False,
                    edgecolor='#808080', borderaxespad=0.25, handletextpad=0.3,
                    labelspacing=0.25, borderpad=0.3, handlelength=1.2, markerscale=0.9)
    leg.get_frame().set_linewidth(0.8)

fig.savefig('out.png', dpi=100)
